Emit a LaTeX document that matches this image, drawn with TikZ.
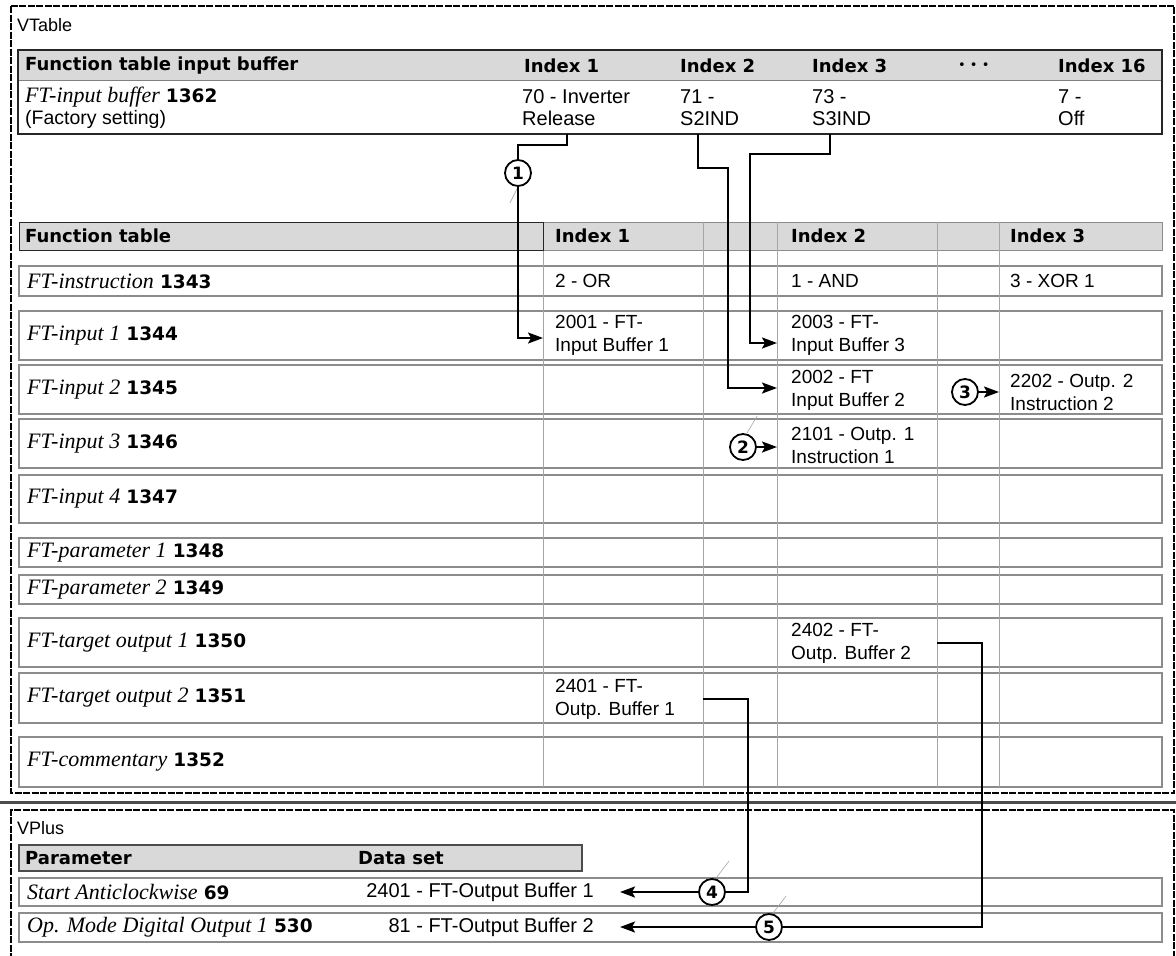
\documentclass[tikz,border=0pt]{standalone}
\usepackage{fontspec}
\setmainfont{Liberation Sans}
\newfontfamily\hdfont{DejaVu Sans}
\newfontfamily\lbfont{Liberation Serif}
\usepackage{tikz}
\usetikzlibrary{positioning,arrows.meta}

\newcommand{\ftlabel}[2]{{\lbfont\itshape #1} {\hdfont\bfseries\fontsize{18.5}{22}\selectfont #2}}

\begin{document}
\begin{tikzpicture}[x=1pt, y=-1pt,
  zone/.style={draw, dash pattern=on 7pt off 1.5pt, line width=2pt},
  rowbox/.style={draw=black!45, line width=1.6pt},
  colline/.style={draw=black!35, line width=1pt},
  captxt/.style={anchor=west, inner sep=0pt, font=\fontsize{18}{20}\selectfont},
  hdr/.style={anchor=west, inner sep=0pt, font=\hdfont\bfseries\fontsize{18}{20}\selectfont},
  lbl/.style={anchor=west, inner sep=0pt, font=\fontsize{22}{24}\selectfont},
  val/.style={anchor=west, inner sep=0pt, align=left, font=\fontsize{19}{23}\selectfont},
  topval/.style={val, font=\fontsize{20}{22}\selectfont},
  callout/.style={circle, draw, line width=1.8pt, fill=white, minimum size=26pt, inner sep=0pt,
                  font=\hdfont\bfseries\fontsize{17}{17}\selectfont},
  leader/.style={draw=black!35, line width=0.6pt},
  wire/.style={line width=2.2pt},
  arr/.style={wire, -{Stealth[length=15pt, width=11pt, inset=3pt]}}]
  \useasboundingbox (0,0) rectangle (1176,956);

  % VTable
  \draw[zone] (11,6) rectangle (1174,793);
  \node[captxt] (vtable) at (17,25) {VTable};
  \fill[black!15] (18,50) rectangle (1162,80);
  \draw[black!50, line width=1pt] (18,80) -- (1162,80);
  \draw[black!85, line width=1.4pt] (18,50) rectangle (1162,134);
  \node[hdr] (ibhead) at (25,66) {Function table input buffer};
  \node[hdr] (ibidx1) at (524,66) {Index 1};
  \node[hdr] (ibidx2) at (680,66) {Index 2};
  \node[hdr] (ibidx3) at (812,66) {Index 3};
  \node[anchor=west, inner sep=0pt, font=\hdfont\fontsize{13}{13}\selectfont] (ibdots) at (958,66) {• • •};
  \node[hdr] (ibidx16) at (1058,66) {Index 16};
  \node[lbl] (p1362) at (25,97) {\ftlabel{FT-input buffer}{1362}};
  \node[captxt, font=\fontsize{19.5}{22}\selectfont] (factory) at (25,119) {(Factory setting)};
  \node[topval] (iv1) at (522,108) {70 - Inverter\\Release};
  \node[topval] (iv2) at (680,108) {71 -\\S2IND};
  \node[topval] (iv3) at (812,108) {73 -\\S3IND};
  \node[topval] (iv16) at (1058,108) {7 -\\Off};
  \coordinate (o1) at (567,134);
  \coordinate (o2) at (698,134);
  \coordinate (o3) at (830,134);

  % function table
  \fill[black!15] (19,222) rectangle (1162,250);
  \draw[black!45, line width=1pt] (19,222) rectangle (1162,250);
  \foreach \t/\b in {266/296, 311/360, 365/414, 419/468, 475/523, 538/567, 575/604, 618/667, 673/723, 737/787}
    \draw[rowbox] (19,\t) rectangle (1162,\b);
  \foreach \x in {543,703,777,937,999}
    \draw[colline] (\x,222) -- (\x,787);
  \draw[black!85, line width=1pt] (19,222) rectangle (543,250);
  \coordinate (col1) at (543,222);
  \coordinate (col1r) at (703,222);
  \coordinate (col2) at (777,222);
  \coordinate (col2r) at (937,222);
  \coordinate (col3) at (999,222);

  \node[hdr] (fthead) at (25,236) {Function table};
  \node[hdr] (ftidx1) at (555,236) {Index 1};
  \node[hdr] (ftidx2) at (791,236) {Index 2};
  \node[hdr] (ftidx3) at (1010,236) {Index 3};
  \foreach \nm/\num/\y in {FT-instruction/1343/281, FT-input 1/1344/335.5, FT-input 2/1345/389.5,
                          FT-input 3/1346/443.5, FT-input 4/1347/499, FT-parameter 1/1348/552.5,
                          FT-parameter 2/1349/589.5, FT-target output 1/1350/642.5,
                          FT-target output 2/1351/698, FT-commentary/1352/762}
    \node[lbl] (p\num) at (27,\y) {\ftlabel{\nm}{\num}};

  \node[val] (instr1) at (555,281) {2 - OR};
  \node[val] (instr2) at (791,281) {1 - AND};
  \node[val] (instr3) at (1010,281) {3 - XOR 1};
  \node[val] (inA1) at (555,335.5) {2001 - FT-\\Input Buffer 1};
  \node[val] (inA2) at (791,335.5) {2003 - FT-\\Input Buffer 3};
  \node[val] (inB2) at (791,390) {2002 - FT\\Input Buffer 2};
  \node[val] (inB3) at (1010,392) {2202 - Outp. 2\\Instruction 2};
  \node[val] (inC2) at (791,445) {2101 - Outp. 1\\Instruction 1};
  \node[val] (tgtA2) at (791,643) {2402 - FT-\\Outp. Buffer 2};
  \node[val] (tgtB1) at (555,699) {2401 - FT-\\Outp. Buffer 1};
  \coordinate (inA1e) at (543,338);
  \coordinate (inA2e) at (777,343);
  \coordinate (inB2e) at (777,388);

  % VPlus
  \draw[line width=3pt, black!70] (0,802) -- (1176,802);
  \draw[zone] (11,960) |- (1174,810) -- (1174,960);
  \node[captxt] (vplus) at (17,828) {VPlus};
  \fill[black!15] (19,845) rectangle (582,871);
  \draw[black!70, line width=1.2pt] (19,845) rectangle (582,871);
  \node[hdr] (parhead) at (25,858) {Parameter};
  \node[hdr] (dshead) at (358,858) {Data set};
  \draw[rowbox] (19,878) rectangle (1162,906);
  \draw[rowbox] (19,913) rectangle (1162,942);
  \node[lbl] (p69) at (27,892) {\ftlabel{Start Anticlockwise}{69}};
  \node[val, anchor=east, font=\fontsize{20}{22}\selectfont] (ds69) at (594,892) {2401 - FT-Output Buffer 1};
  \node[lbl] (p530) at (27,927) {\ftlabel{Op. Mode Digital Output 1}{530}};
  \node[val, anchor=east, font=\fontsize{20}{22}\selectfont] (ds530) at (594,927) {81 - FT-Output Buffer 2};
  \coordinate (ds69e) at (620,892);
  \coordinate (ds530e) at (620,927);

  % callouts
  \node[callout] (n1) at (518,173) {1};
  \node[callout] (n2) at (743,447) {2};
  \node[callout] (n3) at (965,392) {3};
  \node[callout] (n4) at (712,892) {4};
  \node[callout] (n5) at (769,927) {5};
  \draw[leader] (n1.south) -- ++(-8,16);
  \draw[leader] (n2.north) ++(4,0) -- ++(10,-17);
  \draw[leader] (n4.north) ++(4,0) -- ++(13,-17);
  \draw[leader] (n5.north) ++(4,0) -- ++(13,-17);

  \draw[wire] (o1) |- (518,145) -- (n1.north);
  \draw[arr] (n1.south) |- (inA1e);
  \draw[arr] (o2) |- (728,168) |- (inB2e);
  \draw[arr] (o3) |- (750,154) |- (inA2e);
  \draw[arr] (n2.east) -- (n2.east -| col2);
  \draw[arr] (n3.east) -- (n3.east -| col3);
  \draw[wire] (tgtB1.east -| col1r) -| (748,892) -- (n4.east);
  \draw[arr] (n4.west) -- (ds69e);
  \draw[wire] (tgtA2.east -| col2r) -| (982,927) -- (n5.east);
  \draw[arr] (n5.west) -- (ds530e);
\end{tikzpicture}
\end{document}
